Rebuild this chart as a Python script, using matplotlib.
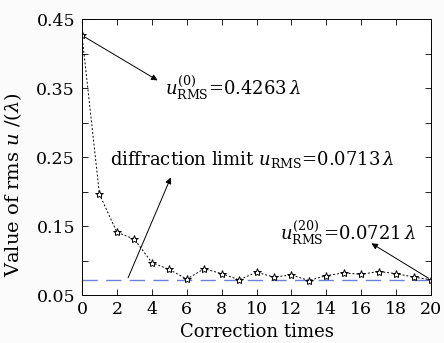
import matplotlib
matplotlib.use("Agg")
import matplotlib.pyplot as plt

# data
times = list(range(21))
rms = [0.4263, 0.196, 0.141, 0.131, 0.097, 0.087, 0.073, 0.088, 0.081, 0.072,
       0.083, 0.076, 0.079, 0.071, 0.078, 0.082, 0.080, 0.084, 0.081, 0.076, 0.0721]
limite = 0.0713

plt.rcParams['font.family'] = 'DejaVu Serif'
plt.rcParams['mathtext.fontset'] = 'dejavuserif'

fig = plt.figure(figsize=(4.44, 3.43), dpi=100)
ax = fig.add_axes([82/444, 1 - 295/343, (431-82)/444, (295-19)/343])

ax.axhline(limite, color='#6f80d8', lw=1.0, dashes=(11, 6))
ax.plot(times, rms, color='black', lw=0.7, linestyle=(0, (2, 2)),
        marker='*', markersize=6, markerfacecolor='white',
        markeredgecolor='black', markeredgewidth=0.7)

ax.set_xlim(0, 20)
ax.set_ylim(0.05, 0.45)
ax.set_xticks(range(0, 21, 2))
yt = [0.05, 0.10, 0.15, 0.20, 0.25, 0.30, 0.35, 0.40, 0.45]
ax.set_yticks(yt)
ax.set_yticklabels(['0.05', '', '0.15', '', '0.25', '', '0.35', '', '0.45'])
ax.tick_params(direction='in', top=True, right=True, labelsize=12.5, length=4, width=0.6)
ax.tick_params(axis='x', pad=4)
ax.tick_params(axis='y', pad=5)
for s in ax.spines.values():
    s.set_linewidth(0.7)

ax.set_xlabel('Correction times', fontsize=13, labelpad=4)
ax.set_ylabel(r'Value of rms $u$ /($\lambda$)', fontsize=14)
ax.yaxis.set_label_coords(-0.165, 0.40)

flecha = dict(arrowstyle='-|>', color='black', lw=0.7, mutation_scale=9)
ax.annotate('', xy=(4.47, 0.359), xytext=(0, rms[0]), arrowprops=flecha)
ax.annotate('', xy=(5.15, 0.224), xytext=(2.58, limite), arrowprops=flecha)
ax.annotate('', xy=(16.45, 0.127), xytext=(20, rms[-1]), arrowprops=flecha)

ax.text(4.76, 0.351, r'$u^{(0)}_{\mathrm{RMS}}$=0.4263$\,\lambda$', fontsize=13, va='center')
ax.text(1.6, 0.246, r'diffraction limit $u_{\mathrm{RMS}}$=0.0713$\,\lambda$', fontsize=13, va='center')
ax.text(11.35, 0.141, r'$u^{(20)}_{\mathrm{RMS}}$=0.0721$\,\lambda$', fontsize=13, va='center')

fig.savefig('out.png', dpi=100, facecolor='#fbfbfb')
